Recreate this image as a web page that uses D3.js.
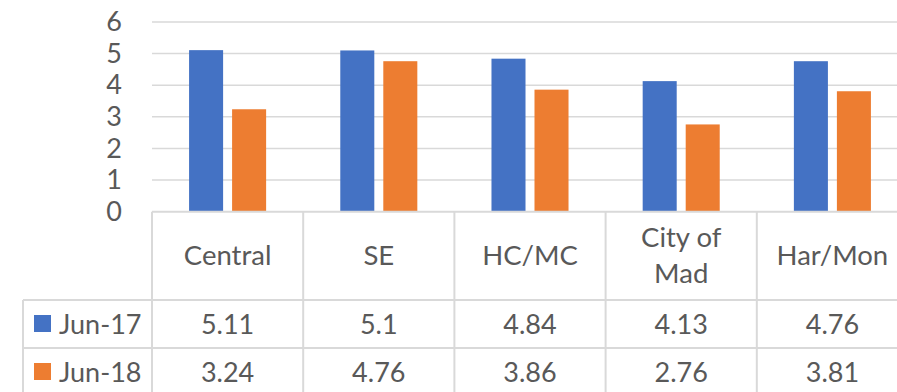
<!DOCTYPE html>
<html>
<head>
<meta charset="utf-8">
<script src="https://cdn.jsdelivr.net/npm/d3@7"></script>
<style>
  html, body { margin: 0; padding: 0; background: #fff; }
  svg { display: block; }
  text { font-family: Lato, "Open Sans", sans-serif; fill: #595959; }
</style>
</head>
<body>
<svg id="chart" width="897" height="392"></svg>
<script>
// Regions shown along the category axis
const categories = ["Central", "SE", "HC/MC", "City of\nMad", "Har/Mon"];
// Series names and their values per region
const seriesNames = ["Jun-17", "Jun-18"];
const jun17 = [5.11, 5.1, 4.84, 4.13, 4.76];
const jun18 = [3.24, 4.76, 3.86, 2.76, 3.81];
// Value axis ticks
const yTicks = [0, 1, 2, 3, 4, 5, 6];

const seriesValues = [jun17, jun18];
const colors = ["#4472C4", "#ED7D31"];
const gridColor = "#d9d9d9";

const svg = d3.select("#chart");
const W = 897, H = 392;

// Layout
const plotLeft = 152, plotRight = 908;
const plotTop = 22, plotBottom = 211.7;
const headerBottom = 300, rowH = 48;
const tableLeft = 23;

const x = d3.scaleBand().domain(categories).range([plotLeft, plotRight]).paddingInner(0).paddingOuter(0);
const x1 = d3.scaleBand().domain(seriesNames).range([0, x.bandwidth()]).paddingInner(0.209).paddingOuter(0.862);
const y = d3.scaleLinear().domain([0, 6]).range([plotBottom, plotTop]);

// Gridlines
svg.append("g").selectAll("line").data(yTicks.filter(t => t > 0)).join("line")
  .attr("x1", plotLeft).attr("x2", plotRight)
  .attr("y1", d => y(d)).attr("y2", d => y(d))
  .attr("stroke", gridColor).attr("stroke-width", 1.5);

// Value axis labels
const yAxis = d3.axisLeft(y).tickValues(yTicks).tickSize(0).tickPadding(0).tickFormat(d3.format("d"));
const yg = svg.append("g").attr("transform", `translate(122,0)`).call(yAxis);
yg.select(".domain").remove();
yg.selectAll("text").attr("font-size", 27).attr("fill", "#595959")
  .style("font-family", "Lato, 'Open Sans', sans-serif");

// Bars
const rows = categories.map((c, i) => ({ c, vals: seriesNames.map((s, k) => ({ s, v: seriesValues[k][i], k })) }));
const cg = svg.append("g").selectAll("g").data(rows).join("g")
  .attr("transform", d => `translate(${x(d.c)},0)`);
cg.selectAll("rect").data(d => d.vals).join("rect")
  .attr("x", d => x1(d.s)).attr("width", x1.bandwidth())
  .attr("y", d => y(d.v)).attr("height", d => y(0) - y(d.v))
  .attr("fill", d => colors[d.k]);

// Data table grid
const tg = svg.append("g");
tg.append("line").attr("x1", plotLeft).attr("x2", plotRight).attr("y1", plotBottom).attr("y2", plotBottom)
  .attr("stroke", gridColor).attr("stroke-width", 2);
[headerBottom, headerBottom + rowH, headerBottom + 2 * rowH].forEach(yy => {
  tg.append("line").attr("x1", tableLeft).attr("x2", plotRight).attr("y1", yy).attr("y2", yy)
    .attr("stroke", gridColor).attr("stroke-width", 2);
});
const colEdges = categories.map(c => x(c)).concat([plotRight]);
tg.selectAll("line.col").data(colEdges).join("line").attr("class", "col")
  .attr("x1", d => d).attr("x2", d => d).attr("y1", plotBottom).attr("y2", H + 10)
  .attr("stroke", gridColor).attr("stroke-width", 2);
tg.append("line").attr("x1", tableLeft).attr("x2", tableLeft).attr("y1", headerBottom).attr("y2", H + 10)
  .attr("stroke", gridColor).attr("stroke-width", 2);

// Category header labels
const hdr = svg.append("g").selectAll("text").data(categories).join("text")
  .attr("text-anchor", "middle").attr("font-size", 27.5)
  .attr("x", d => x(d) + x.bandwidth() / 2)
  .attr("y", (plotBottom + headerBottom) / 2);
hdr.each(function (d) {
  const lines = d.split("\n");
  const t = d3.select(this);
  const lh = 36;
  lines.forEach((ln, i) => {
    t.append("tspan").attr("x", x(d) + x.bandwidth() / 2)
      .attr("dy", i === 0 ? (-(lines.length - 1) * lh / 2 + 9.5) : lh)
      .text(ln);
  });
});

// Series rows: legend key, name and values
seriesNames.forEach((s, k) => {
  const cy = headerBottom + rowH * k + rowH / 2;
  svg.append("rect").attr("x", 34).attr("y", cy - 9).attr("width", 17).attr("height", 17).attr("fill", colors[k]);
  svg.append("text").attr("x", 59).attr("y", cy + 9.5).attr("font-size", 27).text(s);
  svg.append("g").selectAll("text").data(seriesValues[k]).join("text")
    .attr("text-anchor", "middle").attr("font-size", 27)
    .attr("x", (d, i) => x(categories[i]) + x.bandwidth() / 2)
    .attr("y", cy + 9.5)
    .text(d => d);
});
</script>
</body>
</html>
